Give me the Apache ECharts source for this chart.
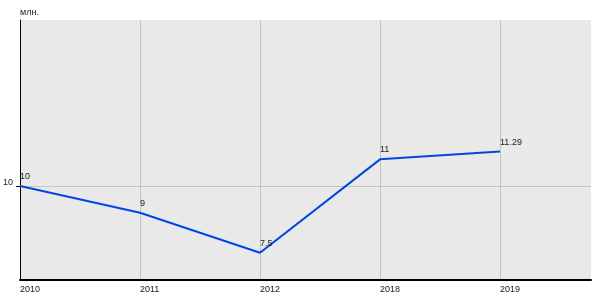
<!DOCTYPE html>
<html><head><meta charset="utf-8">
<script src="https://cdn.jsdelivr.net/npm/echarts@6/dist/echarts.min.js"></script>
<style>html,body{margin:0;padding:0;background:#fff}#c{width:600px;height:300px}</style>
</head><body><div id="c"></div>
<script>
const categories = ['2010', '2011', '2012', '2018', '2019'];
const values = [10, 9, 7.5, 11, 11.29];
const yTicks = [10];
const unit = 'млн.';

const chart = echarts.init(document.getElementById('c'), null, {renderer: 'canvas'});
const font = 'Liberation Sans, Arial, sans-serif';
chart.setOption({
  animation: false,
  backgroundColor: '#ffffff',
  grid: {left: 20, right: 9, top: 20, bottom: 20, show: true, backgroundColor: '#e9e9e9', borderWidth: 0},
  xAxis: {
    type: 'value', min: 0, max: 4.758,
    axisLine: {show: true, onZero: false, lineStyle: {color: '#000', width: 2}},
    axisTick: {show: false, customValues: [0, 1, 2, 3, 4]},
    axisLabel: {customValues: [0, 1, 2, 3, 4], formatter: v => categories[Math.round(v)] || '',
      color: '#222', fontFamily: font, fontSize: 9, align: 'left', margin: 5},
    splitLine: {show: true, lineStyle: {color: '#c4c4c4', width: 1}}
  },
  yAxis: {
    type: 'value', min: 6.48, max: 16.22,
    name: unit, nameLocation: 'end', nameGap: 3,
    nameTextStyle: {align: 'left', color: '#222', fontFamily: font, fontSize: 9, padding: [0, 0, 0, 0]},
    axisLine: {show: true, onZero: false, lineStyle: {color: '#000', width: 1}},
    axisTick: {show: true, length: 4, customValues: yTicks, lineStyle: {color: '#000'}},
    axisLabel: {customValues: yTicks, color: '#222', fontFamily: font, fontSize: 9, margin: 7,
      verticalAlign: 'bottom', lineHeight: 8},
    splitLine: {show: true, lineStyle: {color: '#c4c4c4', width: 1}}
  },
  series: [{
    type: 'line',
    data: values.map((v, i) => [i, v]),
    symbol: 'circle', symbolSize: 0, showSymbol: true,
    lineStyle: {color: '#0046e0', width: 2},
    itemStyle: {color: '#0046e0'},
    label: {show: true, position: [0, -14], align: 'left', color: '#222', fontFamily: font, fontSize: 9}
  }]
});
</script></body></html>
